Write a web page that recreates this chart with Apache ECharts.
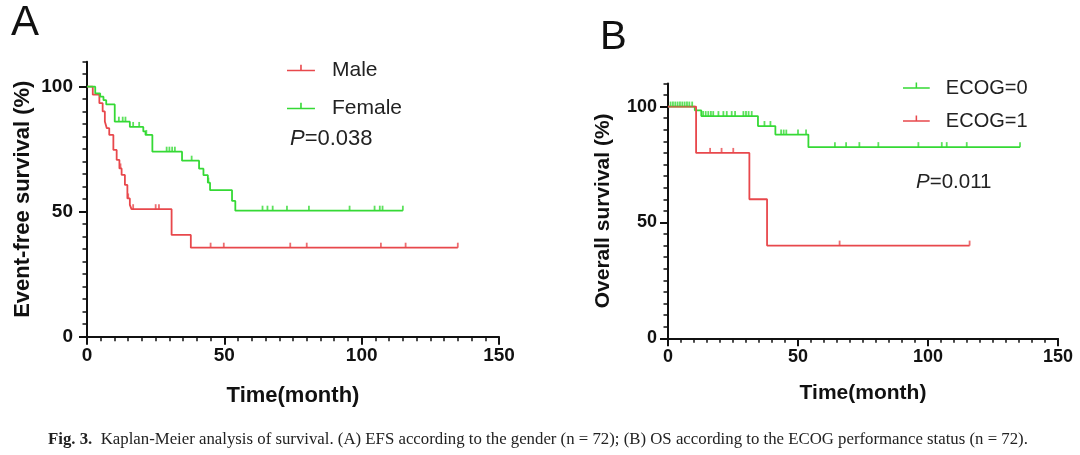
<!DOCTYPE html>
<html><head><meta charset="utf-8">
<script src="https://cdn.jsdelivr.net/npm/echarts@6/dist/echarts.min.js"></script>
<style>html,body{margin:0;padding:0;background:#fff;}#c{width:1080px;height:455px;}</style>
</head><body><div id="c"></div>
<script>
// ---- tick labels ----
const xTicks = [0, 50, 100, 150];
const yTicks = [0, 50, 100];

// ---- Panel A: EFS by gender ----
const maleT = [0, 2.1, 4.5, 5.7, 6.5, 7.2, 8.1, 9.6, 10.8, 11.8, 12.6, 13.8, 14.7, 15.6, 16.2, 30.8, 37.8, 135];
const maleS = [100, 96.8, 93.4, 90.1, 86.1, 83.4, 80.7, 74.7, 70.7, 67.3, 64.7, 60.7, 55.3, 52.7, 51.0, 40.7, 35.6, 35.6];
const maleCensor = [12.2, 15.0, 16.8, 25.0, 26.2, 45.0, 49.8, 74.0, 80.0, 107.0, 116.0, 135.0];

const femaleT = [0, 3.0, 4.8, 6.0, 7.0, 10.1, 15.6, 20.5, 21.3, 23.8, 34.6, 40.8, 42.4, 44.0, 44.8, 52.8, 54.0, 115];
const femaleS = [100, 97.3, 96.0, 94.6, 92.9, 86.0, 83.9, 82.1, 80.7, 74.0, 70.4, 67.2, 64.6, 61.6, 58.6, 54.3, 50.4, 50.4];
const femaleCensor = [11.6, 13.0, 14.0, 16.8, 19.0, 21.6, 29.0, 30.0, 31.0, 32.0, 38.1, 44.2, 63.9, 65.7, 67.6, 72.8, 80.8, 95.6, 104.7, 106.6, 107.6, 115.0];

// ---- Panel B: OS by ECOG ----
const ecog0T = [0, 10.3, 12.8, 34.6, 41.3, 54.0, 135.4];
const ecog0S = [100, 98.4, 95.9, 91.6, 87.9, 82.5, 82.5];
const ecog0Censor = [1.0, 1.9, 2.8, 3.7, 4.6, 5.5, 6.4, 7.3, 8.2, 9.3, 13.5, 14.5, 15.5, 16.5, 17.4, 19.4, 21.3, 22.6, 24.5, 25.8, 29.0, 30.0, 31.0, 32.2, 37.1, 39.4, 43.5, 44.5, 45.5, 50.0, 53.1, 64.2, 68.5, 73.6, 80.9, 96.3, 105.3, 107.2, 114.9, 135.4];

const ecog1T = [0, 10.8, 31.3, 38.1, 116];
const ecog1S = [100, 80, 60, 40, 40];
const ecog1Censor = [16.2, 20.6, 25.1, 66.0, 116.0];

const RED = '#e8484c';
const GREEN = '#35d935';
const FONT = '"Liberation Sans", Arial, sans-serif';
const ICON = 'path://M0,5h28v1.6h-28z M13.2,0h1.6v5h-1.6z M13.9,11.5h0.02v0.02h-0.02z';

function steps(T, S) { return T.map((t, i) => [t, S[i]]); }
function at(T, S, t) { let v = S[0]; for (let i = 0; i < T.length; i++) { if (T[i] <= t) v = S[i]; } return v; }
function cens(T, S, C) { return C.map(t => [t, at(T, S, t)]); }

function xAxis(grid, fs, gap) {
  return {
    type: 'value', gridIndex: grid, min: 0, max: 150, interval: 50,
    axisLine: { show: true, onZero: false, lineStyle: { color: '#111', width: 2 } },
    axisTick: { show: true, length: 8, lineStyle: { color: '#111', width: 2 }, customValues: xTicks },
    minorTick: { show: true, splitNumber: 10, length: 4.5, lineStyle: { color: '#111', width: 1.5 } },
    splitLine: { show: false }, minorSplitLine: { show: false },
    axisLabel: { customValues: xTicks, color: '#111', fontWeight: 'bold', fontSize: fs, fontFamily: FONT, margin: 10 },
    name: 'Time(month)', nameLocation: 'middle', nameGap: gap,
    nameTextStyle: { color: '#111', fontWeight: 'bold', fontSize: fs + 3, fontFamily: FONT }
  };
}
function yMain(grid, name, fs, gap, margin) {
  return {
    type: 'value', gridIndex: grid, min: 0, max: 110, position: 'left',
    axisLine: { show: true, onZero: false, lineStyle: { color: '#111', width: 2 } },
    axisTick: { show: true, length: 8, lineStyle: { color: '#111', width: 2 }, customValues: yTicks },
    splitLine: { show: false },
    axisLabel: { customValues: yTicks, color: '#111', fontWeight: 'bold', fontSize: fs, fontFamily: FONT, margin: margin },
    name: name, nameLocation: 'middle', nameGap: gap, nameRotate: 90,
    nameTextStyle: { color: '#111', fontWeight: 'bold', fontSize: fs + 3, fontFamily: FONT }
  };
}
function yMinor(grid) {
  return {
    type: 'value', gridIndex: grid, min: 0, max: 110, interval: 5, position: 'left',
    axisLine: { show: false }, splitLine: { show: false },
    axisTick: { show: true, length: 4.5, lineStyle: { color: '#111', width: 1.5 } },
    axisLabel: { show: false }
  };
}
function lineS(name, T, S, color, xi, yi) {
  return { type: 'line', name: name, xAxisIndex: xi, yAxisIndex: yi, step: 'end', data: steps(T, S),
    symbol: 'none', showSymbol: false, lineStyle: { color: color, width: 1.8 }, itemStyle: { color: color }, z: 3 };
}
function censS(name, T, S, C, color, xi, yi) {
  return { type: 'scatter', name: name, xAxisIndex: xi, yAxisIndex: yi, data: cens(T, S, C),
    symbol: 'rect', symbolSize: [1.8, 5], symbolOffset: [0, -2.5], itemStyle: { color: color }, silent: true, z: 4 };
}

const chart = echarts.init(document.getElementById('c'), null, { renderer: 'canvas' });
chart.setOption({
  animation: false,
  backgroundColor: '#fff',
  grid: [
    { left: 87, top: 61.7, width: 412, height: 275 },
    { left: 668, top: 83.4, width: 390, height: 254.9 }
  ],
  xAxis: [xAxis(0, 19, 48), xAxis(1, 18, 44)],
  yAxis: [yMain(0, 'Event-free survival (%)', 19, 53, 14), yMinor(0), yMain(1, 'Overall survival (%)', 18, 54, 11), yMinor(1)],
  legend: [
    { data: [{ name: 'Male', icon: ICON }, { name: 'Female', icon: ICON }], orient: 'vertical', left: 287, top: 60, padding: 0,
      itemWidth: 28, itemHeight: 11.5, itemGap: 17, selectedMode: false,
      textStyle: { fontSize: 21, fontFamily: FONT, color: '#222', padding: [0, 0, 0, 12], lineHeight: 20 } },
    { data: [{ name: 'ECOG=0', icon: ICON }, { name: 'ECOG=1', icon: ICON }], orient: 'vertical', left: 903, top: 78, padding: 0,
      itemWidth: 27, itemHeight: 11, itemGap: 13, selectedMode: false,
      textStyle: { fontSize: 20, fontFamily: FONT, color: '#222', padding: [0, 0, 0, 11], lineHeight: 20 } }
  ],
  series: [
    lineS('Male', maleT, maleS, RED, 0, 0),
    lineS('Female', femaleT, femaleS, GREEN, 0, 0),
    censS('Male censored', maleT, maleS, maleCensor, RED, 0, 0),
    censS('Female censored', femaleT, femaleS, femaleCensor, GREEN, 0, 0),
    lineS('ECOG=0', ecog0T, ecog0S, GREEN, 1, 2),
    lineS('ECOG=1', ecog1T, ecog1S, RED, 1, 2),
    censS('ECOG=0 censored', ecog0T, ecog0S, ecog0Censor, GREEN, 1, 2),
    censS('ECOG=1 censored', ecog1T, ecog1S, ecog1Censor, RED, 1, 2)
  ],
  graphic: [
    { type: 'text', left: 11, top: 2, style: { text: 'A', fontSize: 42, fontFamily: FONT, fill: '#111' } },
    { type: 'text', left: 600, top: 18, style: { text: 'B', fontSize: 40, fontFamily: FONT, fill: '#111' } },
    { type: 'text', left: 290, top: 128, style: { text: '{i|P}=0.038', fontSize: 22, fontFamily: FONT, fill: '#222',
      rich: { i: { fontStyle: 'italic', fontSize: 22, fontFamily: FONT, fill: '#222' } } } },
    { type: 'text', left: 916, top: 172, style: { text: '{i|P}=0.011', fontSize: 20.5, fontFamily: FONT, fill: '#222',
      rich: { i: { fontStyle: 'italic', fontSize: 20.5, fontFamily: FONT, fill: '#222' } } } },
    { type: 'text', left: 48, top: 431, style: {
      text: '{b|Fig. 3.}  Kaplan-Meier analysis of survival. (A) EFS according to the gender (n = 72); (B) OS according to the ECOG performance status (n = 72).',
      fontSize: 16.8, fontFamily: '"Liberation Serif", "DejaVu Serif", serif', fill: '#222',
      rich: { b: { fontWeight: 'bold', fontSize: 16.8, fontFamily: '"Liberation Serif", serif', fill: '#222' } } } }
  ]
});
</script>
</body></html>
